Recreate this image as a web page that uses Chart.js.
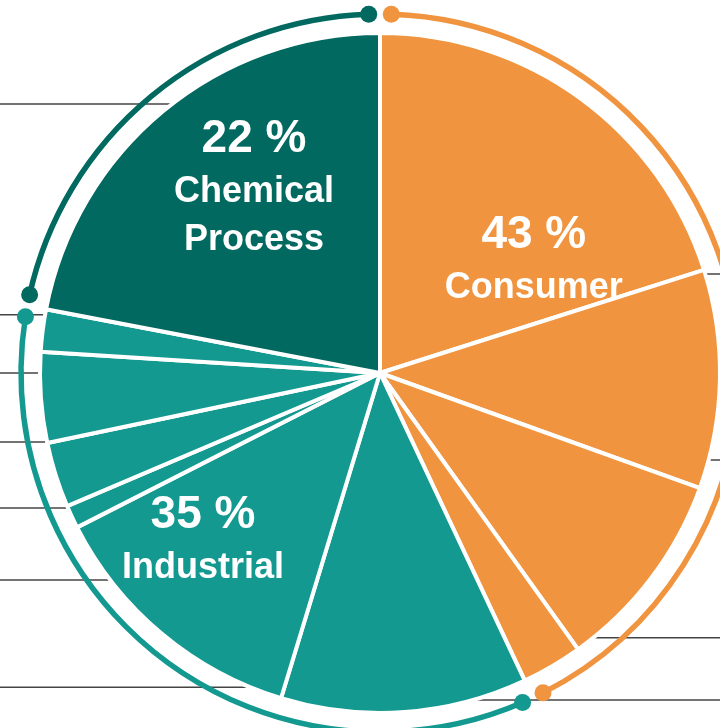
<!DOCTYPE html>
<html lang="en">
<head>
<meta charset="UTF-8">
<title>Market share by sector</title>
<script src="https://cdn.jsdelivr.net/npm/chart.js"></script>
<style>
  html, body { margin: 0; padding: 0; overflow: hidden; background: #fff; }
  #sectorPie { position: absolute; left: 0; top: 0; }
</style>
</head>
<body>
<canvas id="sectorPie" width="760" height="746"></canvas>
<script>
// Sector totals (%)
const sectorNames = ['Consumer', 'Industrial', 'Chemical Process'];
const sectorShares = [43, 35, 22];
const sectorLines = [['Consumer'], ['Industrial'], ['Chemical', 'Process']];
const sectorColors = ['#F0943F', '#139990', '#01695F'];

// Sub-segments of each sector (%), clockwise from 12 o'clock
const consumerParts = [20.1, 10.4, 9.6, 2.9];
const industrialParts = [11.7, 12.8, 1.1, 3.1, 4.3, 2.0];
const chemicalParts = [22];

const sectorParts = [consumerParts, industrialParts, chemicalParts];
const sliceValues = sectorParts.flat();
const sliceColors = sectorParts.flatMap((parts, i) => parts.map(() => sectorColors[i]));

// Label placement: angle clockwise from top (deg) and distance as share of radius
const labelAnchors = [
    { angle: 50.9, dist: 0.583 },
    { angle: 228.8, dist: 0.692 },
    { angle: 330.3, dist: 0.748 }
];

// Leader lines running out to the side labels (offset from centre in radii)
const leaderRows = {
    left: [-0.791, -0.171, 0, 0.203, 0.397, 0.609, 0.924],
    right: [-0.291, 0.256, 0.779, 0.962]
};

const ringGap = 1.8 * Math.PI / 180;

const sectorDecor = {
    id: 'sectorDecor',
    beforeDatasetsDraw(chart) {
        const first = chart.getDatasetMeta(0).data[0];
        const { x, y, outerRadius } = first;
        const ctx = chart.ctx;
        ctx.save();
        ctx.strokeStyle = '#444';
        ctx.lineWidth = 1.5;
        leaderRows.left.forEach(f => {
            const ly = y + f * outerRadius;
            ctx.beginPath();
            ctx.moveTo(0, ly);
            ctx.lineTo(x, ly);
            ctx.stroke();
        });
        leaderRows.right.forEach(f => {
            const ly = y + f * outerRadius;
            ctx.beginPath();
            ctx.moveTo(chart.width, ly);
            ctx.lineTo(x, ly);
            ctx.stroke();
        });
        ctx.restore();
    },
    afterDatasetsDraw(chart) {
        const arcs = chart.getDatasetMeta(0).data;
        const ctx = chart.ctx;
        const { x, y, outerRadius } = arcs[0];
        const ringR = outerRadius + 19;
        let idx = 0;
        ctx.save();
        sectorParts.forEach((parts, s) => {
            const a0 = arcs[idx].startAngle + ringGap;
            const a1 = arcs[idx + parts.length - 1].endAngle - ringGap;
            idx += parts.length;

            // outer ring with end dots
            ctx.strokeStyle = sectorColors[s];
            ctx.fillStyle = sectorColors[s];
            ctx.lineWidth = 5.5;
            ctx.beginPath();
            ctx.arc(x, y, ringR, a0, a1);
            ctx.stroke();
            [a0, a1].forEach(a => {
                ctx.beginPath();
                ctx.arc(x + ringR * Math.cos(a), y + ringR * Math.sin(a), 8.5, 0, Math.PI * 2);
                ctx.fill();
            });

            // sector label
            const anchor = labelAnchors[s];
            const t = anchor.angle * Math.PI / 180;
            const lx = x + anchor.dist * outerRadius * Math.sin(t);
            let ly = y - anchor.dist * outerRadius * Math.cos(t);
            ctx.fillStyle = '#fff';
            ctx.textAlign = 'center';
            ctx.textBaseline = 'alphabetic';
            ctx.font = 'bold 46px "Liberation Sans", Arial, sans-serif';
            ctx.fillText(sectorShares[s] + ' %', lx, ly);
            ctx.font = 'bold 36px "Liberation Sans", Arial, sans-serif';
            sectorLines[s].forEach((line, k) => {
                ly += k === 0 ? 50 : 48;
                ctx.fillText(line, lx, ly);
            });
        });
        ctx.restore();
    }
};

new Chart(document.getElementById('sectorPie'), {
    type: 'pie',
    data: {
        labels: sliceValues.map((v, i) => 'Segment ' + (i + 1)),
        datasets: [{
            data: sliceValues,
            backgroundColor: sliceColors,
            borderColor: '#fff',
            borderWidth: 4
        }]
    },
    options: {
        responsive: false,
        animation: false,
        events: [],
        radius: 340,
        layout: { padding: 0 },
        plugins: {
            legend: { display: false },
            tooltip: { enabled: false }
        }
    },
    plugins: [sectorDecor]
});
</script>
</body>
</html>
